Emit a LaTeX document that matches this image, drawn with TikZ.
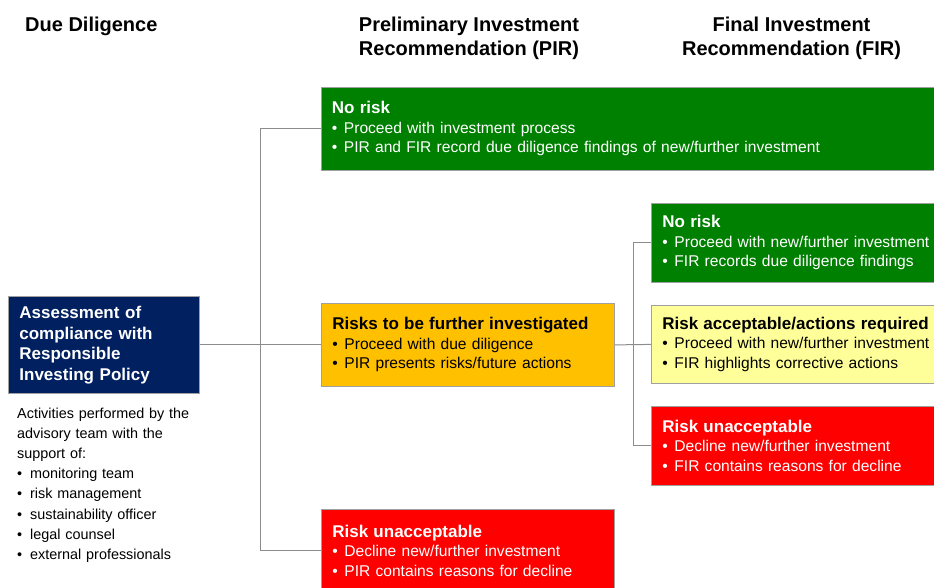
\documentclass[tikz,border=0pt]{standalone}
\usepackage{fontspec}
\setmainfont{Liberation Sans}
\definecolor{navy}{HTML}{002060}
\definecolor{okgreen}{HTML}{008000}
\definecolor{amber}{HTML}{FFC000}
\definecolor{paleyellow}{HTML}{FFFF99}
\definecolor{alarmred}{HTML}{FF0000}
\definecolor{boxline}{HTML}{A0A0A0}
\definecolor{connline}{HTML}{8C8C8C}
\newcommand{\ttl}[1]{{\fontsize{17}{19.5}\selectfont\bfseries #1}}
\newcommand{\bul}[1]{\makebox[12pt][l]{\textbullet}#1}
\newcommand{\sbul}[1]{\makebox[13pt][l]{\textbullet}#1}
\begin{document}
\begin{tikzpicture}[x=1pt,y=-1pt,
  box/.style={draw=boxline, line width=0.8pt, inner xsep=11pt, inner ysep=0pt,
    minimum height=83pt, align=left, anchor=north west,
    font=\fontsize{15.6}{19.5}\selectfont},
  head/.style={font=\fontsize{20}{24}\selectfont\bfseries, inner sep=0pt, align=center},
  conn/.style={draw=connline, line width=1pt}]
\useasboundingbox (0,0) rectangle (934,587);
\clip (0,0) rectangle (934,587);

% headers
\node[head, anchor=base west] (hdd) at (25,31) {Due Diligence};
\node[head, anchor=north] (hpir) at (469,16.7) {Preliminary Investment\\Recommendation (PIR)};
\node[head, anchor=north] (hfir) at (791.5,16.7) {Final Investment\\Recommendation (FIR)};

% left box
\node[box, fill=navy, text=white, text width=169pt, minimum height=97pt,
  font=\fontsize{17}{20.5}\selectfont\bfseries] (assess) at (8,296)
  {Assessment of\\compliance with\\Responsible\\Investing Policy};

\node[anchor=north west, inner sep=0pt, text width=200pt, align=left,
  font=\fontsize{14.4}{20.2}\selectfont] (acts) at (17,407.5)
  {Activities performed by the\\advisory team with the\\support of:\\
   \sbul{monitoring team}\\\sbul{risk management}\\\sbul{sustainability officer}\\
   \sbul{legal counsel}\\\sbul{external professionals}};

% PIR boxes
\node[box, fill=okgreen, text=white, text width=608pt] (pirtop) at (320.5,87)
  {\ttl{No risk}\\\bul{Proceed with investment process}\\\bul{PIR and FIR record due diligence findings of new/further investment}};
\node[box, fill=amber, text=black, text width=271pt] (pirmid) at (321,303)
  {\ttl{Risks to be further investigated}\\\bul{Proceed with due diligence}\\\bul{PIR presents risks/future actions}};
\node[box, fill=alarmred, text=white, text width=271pt] (pirbot) at (321,509)
  {\ttl{Risk unacceptable}\\\bul{Decline new/further investment}\\\bul{PIR contains reasons for decline}};

% FIR boxes
\node[box, fill=okgreen, text=white, text width=278pt, minimum height=79pt] (firtop) at (651,203)
  {\ttl{No risk}\\\bul{Proceed with new/further investment}\\\bul{FIR records due diligence findings}};
\node[box, fill=paleyellow, text=black, text width=278pt, minimum height=78pt] (firmid) at (651,305)
  {\ttl{Risk acceptable/actions required}\\\bul{Proceed with new/further investment}\\\bul{FIR highlights corrective actions}};
\node[box, fill=alarmred, text=white, text width=278pt, minimum height=79pt] (firbot) at (651,406)
  {\ttl{Risk unacceptable}\\\bul{Decline new/further investment}\\\bul{FIR contains reasons for decline}};

% connectors
\coordinate (j1) at (260,344.5);
\coordinate (j2) at (633,344.5);
\draw[conn] (assess.east) -- (pirmid.west);
\draw[conn] (j1) |- (pirtop.west);
\draw[conn] (j1) |- (pirbot.west);
\draw[conn] (pirmid.east) -- (firmid.west);
\draw[conn] (j2) |- (firtop.west);
\draw[conn] (j2) |- (firbot.west);
\end{tikzpicture}
\end{document}
